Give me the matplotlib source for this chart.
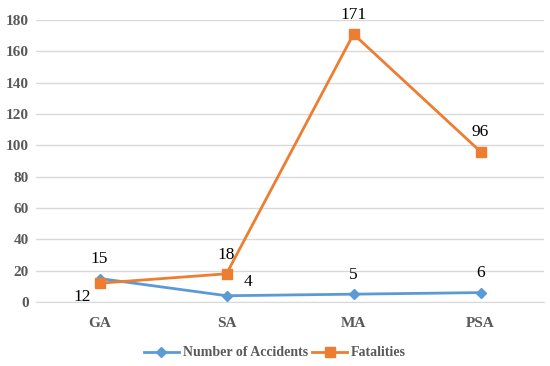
import matplotlib
matplotlib.use("Agg")
import matplotlib.pyplot as plt

categories = ["GA", "SA", "MA", "PSA"]
accidents = [15, 4, 5, 6]
fatalities = [12, 18, 171, 96]

plt.rcParams['font.family'] = ['Liberation Serif', 'DejaVu Serif']

fig = plt.figure(figsize=(5.5, 3.66), dpi=100)
ax = fig.add_axes([36/550, (366-302)/366, (544-36)/550, (302-20)/366])

x = list(range(len(categories)))
blue = "#5B9BD5"
orange = "#ED7D31"
ax.plot(x, accidents, color=blue, lw=2, marker="D", ms=5, label="Number of Accidents", zorder=3)
ax.plot(x, fatalities, color=orange, lw=2, marker="s", ms=7, label="Fatalities", zorder=3)

ax.set_xlim(-0.5, 3.5)
ax.set_ylim(0, 180)
ax.set_yticks(range(0, 181, 20))
ax.set_xticks(x)
ax.set_xticklabels(categories, fontweight="bold", fontsize=11, color="#595959")
for lab in ax.get_yticklabels():
    lab.set_fontweight("bold")
    lab.set_fontsize(11)
    lab.set_color("#595959")
ax.tick_params(axis="x", length=0, pad=11)
ax.tick_params(axis="y", length=0, pad=5)
ax.grid(axis="y", color="#D9D9D9", lw=1)
ax.set_axisbelow(True)
for s in ["top", "right", "left"]:
    ax.spines[s].set_visible(False)
ax.spines["bottom"].set_color("#D9D9D9")

fs = 12.5
acc_off = [(0, 8, "center", "bottom"), (12, 4, "left", "bottom"), (0, 8, "center", "bottom"), (0, 8, "center", "bottom")]
for i, v in enumerate(accidents):
    dx, dy, ha, va = acc_off[i]
    ax.annotate(str(v), (x[i], v), xytext=(dx, dy), textcoords="offset points", ha=ha, va=va, fontsize=fs)
fat_off = [(-6, -4, "right", "top"), (0, 8, "center", "bottom"), (0, 8, "center", "bottom"), (0, 8, "center", "bottom")]
for i, v in enumerate(fatalities):
    dx, dy, ha, va = fat_off[i]
    ax.annotate(str(v), (x[i], v), xytext=(dx, dy), textcoords="offset points", ha=ha, va=va, fontsize=fs)

leg = fig.legend(loc="center", bbox_to_anchor=(0.5, (366-353)/366), ncol=2, frameon=False,
                 prop={"weight": "bold", "size": 10}, handlelength=2.5, columnspacing=0.3, handletextpad=0.3)
for t in leg.get_texts():
    t.set_color("#595959")

fig.savefig("out.png", dpi=100)
